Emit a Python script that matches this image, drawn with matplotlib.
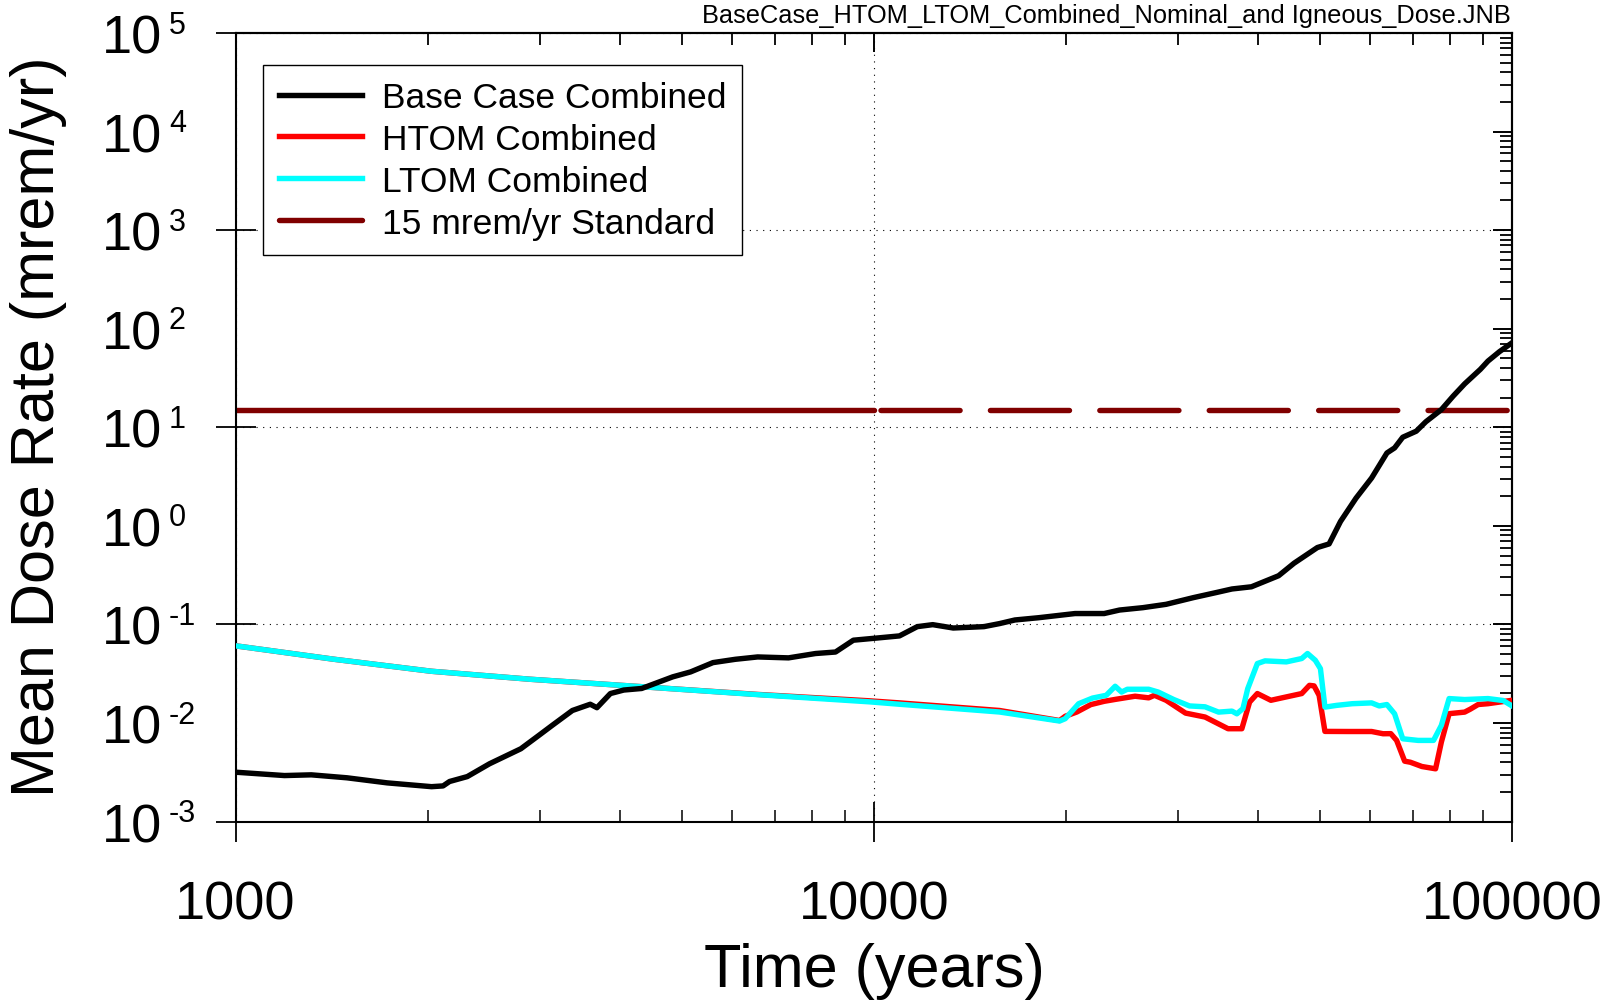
import numpy as np
import matplotlib
matplotlib.use('Agg')
import matplotlib.pyplot as plt
from matplotlib.ticker import NullFormatter, FixedLocator, FixedFormatter
from matplotlib.transforms import offset_copy

plt.rcParams['font.family'] = ['Liberation Sans', 'DejaVu Sans']

# mean dose rate histories (years, mrem/yr)
base_t = [1000, 1193, 1314, 1495, 1728, 2028, 2114, 2164, 2307, 2500, 2799, 2986,
          3134, 3371, 3595, 3683, 3866, 4057, 4328, 4842, 5164, 5598, 6068, 6577,
          7352, 8105, 8710, 9290, 10160, 10970, 11700, 12370, 13320, 14880, 15740,
          16640, 18120, 20670, 22960, 24270, 26400, 28710, 31670, 34440, 36410,
          39060, 43080, 45550, 49550, 51690, 53860, 56960, 60260, 63680, 65470,
          67420, 70790, 73300, 77500, 80860, 84300, 89200, 91700, 95560, 100000]
base_v = [0.00317, 0.00293, 0.00298, 0.00278, 0.00247, 0.00226, 0.0023, 0.00255,
          0.00286, 0.00386, 0.00548, 0.00748, 0.00946, 0.0134, 0.0155, 0.0143,
          0.0199, 0.0216, 0.0224, 0.0294, 0.033, 0.041, 0.0443, 0.0468, 0.0458,
          0.0507, 0.0525, 0.0692, 0.073, 0.0765, 0.095, 0.0995, 0.092, 0.095,
          0.102, 0.111, 0.117, 0.129, 0.129, 0.140, 0.148, 0.160, 0.187, 0.211,
          0.229, 0.241, 0.312, 0.418, 0.603, 0.656, 1.108, 1.91, 3.06, 5.49,
          6.18, 7.93, 9.13, 11.4, 15.1, 20.7, 27.6, 38.7, 47.0, 58.5, 72.0]

htom_t = [1000, 1424, 2027, 2893, 4395, 6577, 9840, 10970, 15740, 19550, 19950,
          20810, 21870, 22960, 23950, 25670, 26960, 27530, 28710, 30800, 33040,
          35900, 37730, 38800, 39900, 41900, 44300, 46830, 48150, 48960, 49860,
          50920, 55400, 60260, 62810, 64580, 65950, 67890, 69300, 72250, 75900,
          77500, 79700, 84300, 86000, 88500, 91700, 100000]
htom_v = [0.0607, 0.0444, 0.0335, 0.0278, 0.0232, 0.0195, 0.0168, 0.0160, 0.0134,
          0.0106, 0.0117, 0.01294, 0.01536, 0.0166, 0.0174, 0.0187, 0.018, 0.0191,
          0.017, 0.0126, 0.0115, 0.00875, 0.00875, 0.0163, 0.0199, 0.017, 0.0184,
          0.0199, 0.0241, 0.0238, 0.0191, 0.00822, 0.0082, 0.0082, 0.00778,
          0.0078, 0.00666, 0.0041, 0.0040, 0.00362, 0.00343, 0.0064, 0.01244,
          0.0129, 0.0138, 0.0154, 0.0157, 0.0170]

ltom_t = [1000, 1424, 2027, 2893, 4395, 6577, 9840, 10970, 15740, 19550, 19950,
          20940, 22010, 23130, 23890, 24450, 24960, 26960, 27910, 29520, 31240,
          33040, 34690, 36410, 37060, 37880, 38540, 39900, 41020, 44300, 46830,
          47820, 49180, 50100, 50920, 53130, 56200, 60260, 61940, 63680, 65470,
          67420, 71270, 75340, 77500, 79700, 84300, 91700, 96900, 100000]
ltom_v = [0.0607, 0.0444, 0.0335, 0.0278, 0.0232, 0.0194, 0.0164, 0.0155, 0.01293,
          0.01047, 0.01106, 0.0157, 0.0179, 0.0191, 0.0236, 0.0206, 0.022, 0.022,
          0.0206, 0.0173, 0.0149, 0.0146, 0.0129, 0.0132, 0.0124, 0.014, 0.0223,
          0.0401, 0.0427, 0.0417, 0.0451, 0.0507, 0.0433, 0.0356, 0.0145, 0.0151,
          0.0157, 0.016, 0.0149, 0.0154, 0.0124, 0.00692, 0.00666, 0.00666,
          0.00946, 0.0177, 0.0173, 0.0177, 0.0169, 0.0149]

# regulatory standard: solid up to 10,000 yr, dashed beyond
std_value = 15
std_solid_t = [1000, 10000]
std_dashed_t = [10000, 100000]

x_ticks = [1000, 10000, 100000]
x_labels = ['1000', '10000', '100000']
y_exps = [-3, -2, -1, 0, 1, 2, 3, 4, 5]

fig = plt.figure(figsize=(16.08, 10.04), dpi=100)
ax = fig.add_axes([0.1465, 0.1807, 0.9403 - 0.1465, 0.9661 - 0.1807])
ax.set_xscale('log')
ax.set_yscale('log')
ax.set_xlim(1000, 100000)
ax.set_ylim(1e-3, 1e5)

lw = 3.9
ax.plot(std_solid_t, [std_value] * 2, color='#800000', lw=lw,
        solid_capstyle='round', label='15 mrem/yr Standard', zorder=2)
ax.plot(std_dashed_t, [std_value] * 2, color='#800000', lw=lw,
        linestyle=(19.0, (14.6, 5.6)), dash_capstyle='round', zorder=2)
ax.plot(htom_t, htom_v, color='#ff0000', lw=lw, label='HTOM Combined', zorder=3)
ax.plot(ltom_t, ltom_v, color='#00ffff', lw=lw, label='LTOM Combined', zorder=4)
ax.plot(base_t, base_v, color='black', lw=lw, label='Base Case Combined', zorder=5)

ax.grid(which='major', color='black', linestyle=(0, (1, 5)), linewidth=0.8)

for s in ax.spines.values():
    s.set_linewidth(1.5)

ax.xaxis.set_major_locator(FixedLocator(x_ticks))
ax.xaxis.set_major_formatter(FixedFormatter(x_labels))
ax.xaxis.set_minor_formatter(NullFormatter())
ax.yaxis.set_major_formatter(NullFormatter())
ax.yaxis.set_minor_formatter(NullFormatter())
ax.tick_params(which='major', direction='inout', length=29, width=1.3,
               labelsize=39, pad=27)
ax.tick_params(which='minor', direction='in', length=8.5, width=1.1)
ax.tick_params(axis='y', labelleft=False)

# ticks on the top and right frame, pointing inward only
secx = ax.secondary_xaxis('top')
secx.tick_params(which='major', direction='in', length=14, width=1.4, labeltop=False)
secx.tick_params(which='minor', direction='in', length=8.5, width=1.3)
secx.spines['top'].set_linewidth(1.5)
secy = ax.secondary_yaxis('right')
secy.tick_params(which='major', direction='in', length=14, width=1.4, labelright=False)
secy.tick_params(which='minor', direction='in', length=8.5, width=1.3)
secy.spines['right'].set_linewidth(1.5)

# decade labels drawn as "10" plus a small raised exponent
for e in y_exps:
    base_tr = offset_copy(ax.get_yaxis_transform(), fig=fig, x=-52.9, y=-14, units='points')
    exp_tr = offset_copy(ax.get_yaxis_transform(), fig=fig, x=-48.0, y=0.3, units='points')
    ax.text(0, 10.0 ** e, '10', transform=base_tr, ha='right', va='baseline', fontsize=39)
    ax.text(0, 10.0 ** e, str(e), transform=exp_tr, ha='left', va='baseline', fontsize=22)

fig.text(0.5438, 0.0174, 'Time (years)', ha='center', va='baseline', fontsize=44)
fig.text(0.024, 0.5746, 'Mean Dose Rate (mrem/yr)', rotation=90, ha='center',
         va='center', fontsize=44)
fig.text(0.9395, 0.977, 'BaseCase_HTOM_LTOM_Combined_Nominal_and Igneous_Dose.JNB',
         ha='right', va='baseline', fontsize=18.3)

h, l = ax.get_legend_handles_labels()
order = ['Base Case Combined', 'HTOM Combined', 'LTOM Combined', '15 mrem/yr Standard']
hs = [h[l.index(k)] for k in order]
leg = ax.legend(hs, order, loc='upper left', bbox_to_anchor=(0.0214, 0.9594),
                borderaxespad=0, fontsize=25.5, handlelength=2.35, handletextpad=0.55,
                labelspacing=0.25, borderpad=0.45, fancybox=False, edgecolor='black',
                framealpha=1)
leg.get_frame().set_linewidth(1.0)

fig.savefig('out.png', dpi=100)
